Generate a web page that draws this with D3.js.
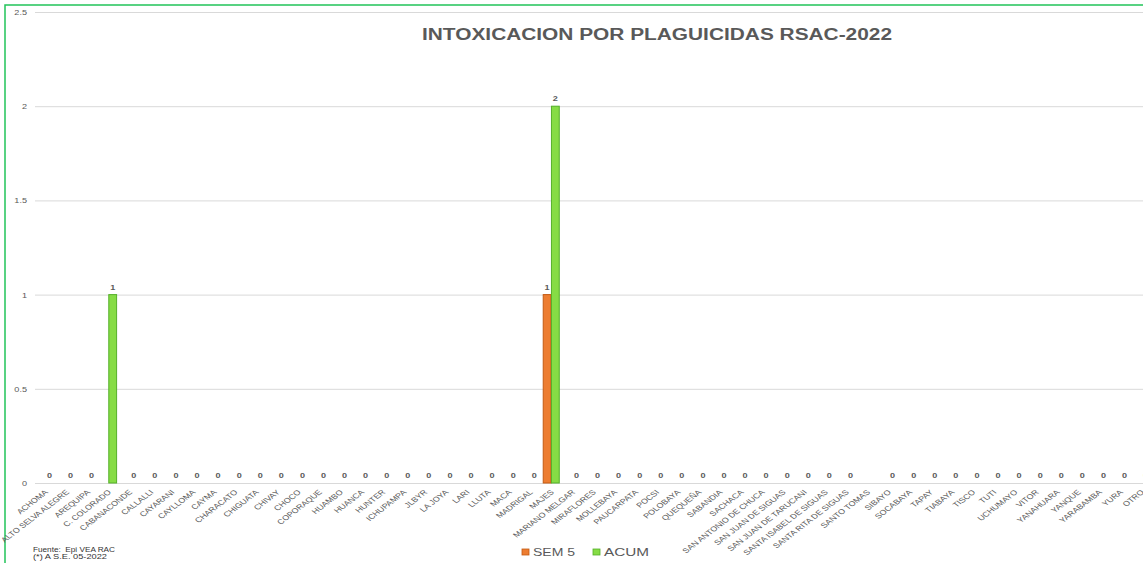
<!DOCTYPE html>
<html>
<head>
<meta charset="utf-8">
<script src="https://cdn.jsdelivr.net/npm/d3@7"></script>
<style>
  html, body { margin: 0; padding: 0; background: #fff; }
  svg { display: block; }
  text { font-family: "Liberation Sans", Arial, sans-serif; }
</style>
</head>
<body>
<svg id="chart" width="1143" height="563"></svg>
<script>
const categories = ["ACHOMA","ALTO SELVA ALEGRE","AREQUIPA","C. COLORADO","CABANACONDE","CALLALLI","CAYARANI","CAYLLOMA","CAYMA","CHARACATO","CHIGUATA","CHIVAY","CHOCO","COPORAQUE","HUAMBO","HUANCA","HUNTER","ICHUPAMPA","JLBYR","LA JOYA","LARI","LLUTA","MACA","MADRIGAL","MAJES","MARIANO MELGAR","MIRAFLORES","MOLLEBAYA","PAUCARPATA","POCSI","POLOBAYA","QUEQUEÑA","SABANDIA","SACHACA","SAN ANTONIO DE CHUCA","SAN JUAN DE SIGUAS","SAN JUAN DE TARUCANI","SANTA ISABEL DE SIGUAS","SANTA RITA DE SIGUAS","SANTO TOMAS","SIBAYO","SOCABAYA","TAPAY","TIABAYA","TISCO","TUTI","UCHUMAYO","VITOR","YANAHUARA","YANQUE","YARABAMBA","YURA","OTRO"];

// SEM 5 only reported for MAJES (other cells empty)
const sem5 = [null,null,null,null,null,null,null,null,null,null,null,null,null,null,null,null,null,null,null,null,null,null,null,null,1,null,null,null,null,null,null,null,null,null,null,null,null,null,null,null,null,null,null,null,null,null,null,null,null,null,null,null,null];
// ACUM (SANTO TOMAS empty)
const acum = [0,0,0,1,0,0,0,0,0,0,0,0,0,0,0,0,0,0,0,0,0,0,0,0,2,0,0,0,0,0,0,0,0,0,0,0,0,0,0,null,0,0,0,0,0,0,0,0,0,0,0,0,0];

const seriesNames = ["SEM 5", "ACUM"];
const seriesValues = [sem5, acum];
const yTicks = [0, 0.5, 1, 1.5, 2, 2.5];
const yTickLabels = ["0", "0.5", "1", "1.5", "2", "2.5"];
const title = "INTOXICACION POR PLAGUICIDAS RSAC-2022";
const footer = ["Fuente:  Epi VEA RAC", "(*) A S.E. 05-2022"];

const colors = { "SEM 5": "#ed7d31", "ACUM": "#86dc45" };
const strokes = { "SEM 5": "#c45a12", "ACUM": "#55b02a" };
const SX = 1.3; // horizontal stretch of the original picture

const W = 1143, H = 563;
const svg = d3.select("#chart");
svg.append("rect").attr("width", W).attr("height", H).attr("fill", "#fff");

// outer green frame
svg.append("rect").attr("x", 5).attr("y", 5).attr("width", W + 20).attr("height", H + 20)
  .attr("fill", "none").attr("stroke", "#22c35a").attr("stroke-width", 1.5);

const x0 = d3.scaleBand().domain(categories).range([34.8, 1152]).paddingInner(0.2).paddingOuter(0.1);
const x1 = d3.scaleBand().domain(seriesNames).range([0, x0.bandwidth()]).padding(0.05);
const y = d3.scaleLinear().domain([0, 2.5]).range([483, 12]);

// Y axis with gridlines
const yAxis = svg.append("g").attr("transform", "translate(35,0)")
  .call(d3.axisLeft(y).tickValues(yTicks).tickSize(-(W - 35)).tickFormat((d, i) => yTickLabels[i]));
yAxis.select(".domain").remove();
yAxis.selectAll(".tick line").attr("stroke", "#d9d9d9").attr("stroke-width", 1);
yAxis.selectAll(".tick text")
  .attr("x", 0).attr("dy", "0.35em")
  .attr("transform", `translate(-8,0) scale(${SX},1)`)
  .attr("text-anchor", "end")
  .attr("font-size", 7).attr("fill", "#595959")
  .attr("font-family", "'Liberation Sans', Arial, sans-serif");

// X axis
const xAxis = svg.append("g").attr("transform", `translate(0,${y(0)})`)
  .call(d3.axisBottom(x0).tickSize(0));
xAxis.select(".domain").attr("stroke", "#d9d9d9");
xAxis.selectAll(".tick text")
  .attr("x", 0).attr("y", 0).attr("dy", "0.35em")
  .attr("text-anchor", "end")
  .attr("transform", `translate(1,8) scale(${SX},1) rotate(-45)`)
  .attr("font-size", 7).attr("fill", "#595959")
  .attr("font-family", "'Liberation Sans', Arial, sans-serif");

// Bars
const rows = categories.map((c, i) => ({ cat: c, vals: seriesNames.map((s, k) => ({ s, v: seriesValues[k][i] })) }));
const groups = svg.append("g").selectAll("g").data(rows).join("g")
  .attr("transform", d => `translate(${x0(d.cat)},0)`);

groups.selectAll("rect").data(d => d.vals.filter(e => e.v !== null && e.v > 0)).join("rect")
  .attr("x", e => x1(e.s))
  .attr("y", e => y(e.v))
  .attr("width", x1.bandwidth())
  .attr("height", e => y(0) - y(e.v))
  .attr("fill", e => colors[e.s])
  .attr("stroke", e => strokes[e.s])
  .attr("stroke-width", 1);

// Data labels
groups.selectAll("g.lbl").data(d => d.vals.filter(e => e.v !== null)).join("g")
  .attr("class", "lbl")
  .attr("transform", e => `translate(${x1(e.s) + x1.bandwidth() / 2},${y(e.v) - 5}) scale(${SX},1)`)
  .append("text")
  .attr("text-anchor", "middle")
  .attr("font-size", 7).attr("font-weight", "bold").attr("fill", "#595959")
  .text(e => e.v);

// Title
svg.append("text").attr("x", 657).attr("y", 40)
  .attr("text-anchor", "middle")
  .attr("font-size", 16).attr("font-weight", "bold").attr("fill", "#595959")
  .attr("textLength", 470).attr("lengthAdjust", "spacingAndGlyphs")
  .text(title);

// Legend
const legendPos = [{ sx: 522, tx: 533, tl: 42 }, { sx: 593, tx: 604, tl: 45 }];
const legend = svg.append("g");
seriesNames.forEach((s, i) => {
  const p = legendPos[i];
  legend.append("rect").attr("x", p.sx).attr("y", 549).attr("width", 7).attr("height", 6)
    .attr("fill", colors[s]).attr("stroke", strokes[s]).attr("stroke-width", 0.8);
  legend.append("text").attr("x", p.tx).attr("y", 556)
    .attr("font-size", 11).attr("fill", "#595959")
    .attr("textLength", p.tl).attr("lengthAdjust", "spacingAndGlyphs")
    .text(s);
});

// Footer
svg.append("text").attr("x", 33).attr("y", 551.5)
  .attr("font-size", 8).attr("fill", "#333")
  .attr("xml:space", "preserve").style("white-space", "pre")
  .attr("textLength", 82).attr("lengthAdjust", "spacingAndGlyphs")
  .text(footer[0]);
svg.append("text").attr("x", 33).attr("y", 559)
  .attr("font-size", 8).attr("fill", "#333")
  .attr("textLength", 74).attr("lengthAdjust", "spacingAndGlyphs")
  .text(footer[1]);
</script>
</body>
</html>
